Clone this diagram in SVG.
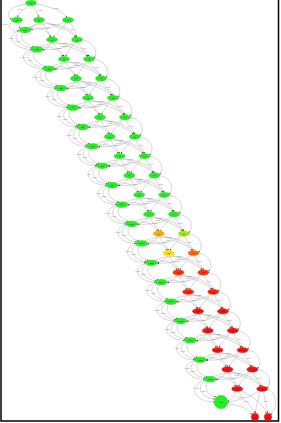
<svg xmlns="http://www.w3.org/2000/svg" width="281" height="423" viewBox="0 0 281 423">
<style>
.e{fill:none;stroke:#a4a4a4;stroke-width:0.45;marker-end:url(#ah)}
.g{fill:#22ee22;stroke:#1cc01c;stroke-width:0.3}
.r{fill:#f51010;stroke:#d00;stroke-width:0.3}
.t{font-family:"Liberation Sans",Arial,sans-serif;font-size:2.2px;fill:#1a1a1a;text-anchor:middle}
.l{font-family:"Liberation Sans",Arial,sans-serif;font-size:2px;fill:#808080;text-anchor:middle}
</style>
<defs>
<marker id="ah" viewBox="0 0 10 10" refX="9" refY="5" markerWidth="1.8" markerHeight="1.8" markerUnits="userSpaceOnUse" orient="auto"><path d="M0,1 L10,5 L0,9z" fill="#333"/></marker>
<g id="t12">
<path class="e" d="M-5.3,0.8 C-22,5 -11,19.5 6.2,19.4"/>
<path class="e" d="M-4.6,1.6 C-15,7 -5,17 7.2,18"/>
<path class="e" d="M-2.8,2.3 C-6,9 1,15 9,17"/>
<path class="e" d="M5,-1.2 C14,-5 23,1.5 25.6,7.2"/>
<path class="e" d="M3,-2.3 C18,-10 44,-6 50.8,7.1"/>
<path class="e" d="M26,12.2 C24,17.5 21,19.4 18,19.4"/>
<path class="e" d="M48.5,11.8 C42,19 30,19.5 17.8,19.9"/>
<path class="e" d="M28,12.2 C30,18 37.5,22 39,26.4"/>
<path class="e" d="M53,12.2 C55,18 62.5,22 64,26.4"/>
<path class="e" d="M30.5,11.7 C42,16 58,21 62.5,26.6"/>
<path class="e" d="M50,11.9 C46,18 42,22 40.5,26.6"/>
<path class="e" d="M57.5,9.7 C71,13 73,24 69,28"/>
<text class="l" x="-14" y="9">0.125</text>
<text class="l" x="-7" y="12">0.250</text>
<text class="l" x="34" y="19">0.500</text>
<text class="l" x="59" y="19">0.500</text>
<text class="l" x="28" y="-5.5">0.250</text>
<text class="l" x="38" y="16.5">0.125</text>
</g>
<g id="t10">
<path class="e" d="M-5.3,0.8 C-22,5 -13,19.5 4,19.4"/>
<path class="e" d="M-4.6,1.6 C-15,7 -7,17 5,18"/>
<path class="e" d="M-2.8,2.3 C-6,9 -1,15 6.8,17"/>
<path class="e" d="M5,-1.2 C14,-5 23,1.5 25.6,7.2"/>
<path class="e" d="M3,-2.3 C18,-10 44,-6 50.8,7.1"/>
<path class="e" d="M26,12.2 C23,17.5 19,19.4 15.8,19.4"/>
<path class="e" d="M48.5,11.8 C42,19 28,19.5 15.6,19.9"/>
<path class="e" d="M28,12.2 C29,18 35.3,22 36.8,26.4"/>
<path class="e" d="M53,12.2 C54,18 60.3,22 61.8,26.4"/>
<path class="e" d="M30.5,11.7 C42,16 56,21 60.3,26.6"/>
<path class="e" d="M50,11.9 C45,18 40,22 38.3,26.6"/>
<path class="e" d="M57.5,9.7 C71,13 71,24 66.8,28"/>
<text class="l" x="-14" y="9">0.125</text>
<text class="l" x="-8" y="12">0.250</text>
<text class="l" x="33" y="19">0.500</text>
<text class="l" x="58" y="19">0.500</text>
<text class="l" x="28" y="-5.5">0.250</text>
<text class="l" x="36" y="16.5">0.125</text>
</g>
</defs>
<rect x="0" y="0" width="281" height="423" fill="#fff"/>
<rect x="1" y="-1" width="277.5" height="422" fill="none" stroke="#000" stroke-width="1.5"/>
<g id="connectors">
<path class="e" d="M29,5.2 C24,9 19,13 17.5,17.1"/>
<path class="e" d="M32,5.5 C35,10 38,14 38.7,17.1"/>
<path class="e" d="M35.5,4 C50,6 64,12 67,17.1"/>
<path class="e" d="M26.5,4 C10,6 4,14 11.5,19.2"/>
<path class="e" d="M18,22.5 C19,26 20,27.3 20.5,27.4"/>
<path class="e" d="M37,22.5 C34,26 31,28 29.8,28"/>
<path class="e" d="M64,22 C55,28 40,29 31,29.6"/>
<path class="e" d="M12.5,21.5 C6,26 10,32 19,30.8"/>
<path class="e" d="M42,22.3 C46,28 49,33 50.6,37.1"/>
<path class="e" d="M66,22.5 C62,30 56,33 53.6,37.1"/>
<path class="e" d="M70,22.5 C74,28 76,33 76.6,37"/>
<path class="e" d="M43.5,21.5 C55,26 70,30 75.2,37.2"/>
<text class="l" x="20" y="10">0.333</text>
<text class="l" x="40" y="11">0.333</text>
<text class="l" x="56" y="9">0.333</text>
<text class="l" x="5" y="25">0.500</text>
<text class="l" x="47" y="29">0.500</text>
<text class="l" x="72" y="30">0.500</text>
<use href="#t12" x="25" y="30"/>
<use href="#t12" x="37" y="49.4"/>
<use href="#t12" x="49" y="68.8"/>
<use href="#t12" x="61" y="88.2"/>
<use href="#t10" x="73" y="107.6"/>
<use href="#t10" x="82.8" y="127"/>
<use href="#t10" x="92.6" y="146.4"/>
<use href="#t10" x="102.4" y="165.8"/>
<use href="#t10" x="112.2" y="185.2"/>
<use href="#t10" x="122" y="204.6"/>
<use href="#t10" x="131.8" y="224"/>
<use href="#t10" x="141.6" y="243.4"/>
<use href="#t10" x="151.4" y="262.8"/>
<use href="#t10" x="161.2" y="282.2"/>
<use href="#t10" x="171" y="301.6"/>
<use href="#t10" x="180.8" y="321"/>
<use href="#t10" x="190.6" y="340.4"/>
<use href="#t10" x="200.4" y="359.8"/>
<path class="e" d="M204.9,380 C187,386 194,402 214.2,402"/>
<path class="e" d="M205.6,380.8 C195,387 202,398 214.8,399"/>
<path class="e" d="M207.4,381.5 C204,390 208,396 216,396.8"/>
<path class="e" d="M215.2,378 C224,374 233,380.5 235.8,386.3"/>
<path class="e" d="M213.2,376.9 C228,369 254,373 260.9,386.3"/>
<path class="e" d="M236,391.3 C234,397 231,400 227.8,400.8"/>
<path class="e" d="M258.5,391 C250,398 237,400 227.8,402.6"/>
<path class="e" d="M238.5,391.4 C243,400 252,406 254.3,413"/>
<path class="e" d="M263.2,391.4 C265,400 267,406 267.7,413"/>
<path class="e" d="M241,390.8 C252,396 264,404 266.3,413.3"/>
<path class="e" d="M260,391.6 C258,400 256,406 255.5,413"/>
<path class="e" d="M267.7,389 C278,394 277,408 271,414.5"/>
<path class="e" d="M227.4,404 C240,405 249,409 251.8,414.4"/>
<text class="l" x="196" y="389">0.125</text>
<text class="l" x="203" y="392">0.250</text>
<text class="l" x="246" y="402">0.500</text>
<text class="l" x="266" y="402">0.500</text>
<text class="l" x="238" y="373.5">0.250</text>
<text class="l" x="240" y="398">0.125</text>
</g>
<g id="nodes">
<g id="n-top"><ellipse class="g" cx="31" cy="3" rx="5.5" ry="2.7"/><text class="t" x="31" y="3.8">init</text></g>
<g id="n-a1"><ellipse class="g" cx="17" cy="20" rx="5.5" ry="2.7"/><text class="t" x="17" y="20.8">a1</text></g>
<g id="n-a2"><ellipse class="g" cx="39" cy="20" rx="5.5" ry="2.7"/><text class="t" x="39" y="20.8">a2</text></g>
<g id="n-a3"><ellipse class="g" cx="68" cy="20" rx="5.5" ry="2.7"/><text class="t" x="68" y="20.8">a3</text></g>
<g id="m0"><ellipse class="g" cx="25" cy="30" rx="6" ry="2.9"/><text class="t" x="25" y="30.8">m0</text></g>
<g id="l0"><ellipse class="g" cx="52" cy="39.7" rx="5.5" ry="2.7"/><text class="t" x="52" y="40.5">l0</text></g>
<g id="r0"><ellipse class="g" cx="77" cy="39.7" rx="5.5" ry="2.7"/><text class="t" x="77" y="40.5">r0</text></g>
<g id="m1"><ellipse class="g" cx="37" cy="49.4" rx="6" ry="2.9"/><text class="t" x="37" y="50.2">m1</text></g>
<g id="l1"><ellipse class="g" cx="64" cy="59.1" rx="5.5" ry="2.7"/><text class="t" x="64" y="59.9">l1</text></g>
<g id="r1"><ellipse class="g" cx="89" cy="59.1" rx="5.5" ry="2.7"/><text class="t" x="89" y="59.9">r1</text></g>
<g id="m2"><ellipse class="g" cx="49" cy="68.8" rx="6" ry="2.9"/><text class="t" x="49" y="69.6">m2</text></g>
<g id="l2"><ellipse class="g" cx="76" cy="78.5" rx="5.5" ry="2.7"/><text class="t" x="76" y="79.3">l2</text></g>
<g id="r2"><ellipse class="g" cx="101" cy="78.5" rx="5.5" ry="2.7"/><text class="t" x="101" y="79.3">r2</text></g>
<g id="m3"><ellipse class="g" cx="61" cy="88.2" rx="6" ry="2.9"/><text class="t" x="61" y="89">m3</text></g>
<g id="l3"><ellipse class="g" cx="88" cy="97.9" rx="5.5" ry="2.7"/><text class="t" x="88" y="98.7">l3</text></g>
<g id="r3"><ellipse class="g" cx="113" cy="97.9" rx="5.5" ry="2.7"/><text class="t" x="113" y="98.7">r3</text></g>
<g id="m4"><ellipse class="g" cx="73" cy="107.6" rx="6" ry="2.9"/><text class="t" x="73" y="108.4">m4</text></g>
<g id="l4"><ellipse class="g" cx="100" cy="117.3" rx="5.5" ry="2.7"/><text class="t" x="100" y="118.1">l4</text></g>
<g id="r4"><ellipse class="g" cx="125" cy="117.3" rx="5.5" ry="2.7"/><text class="t" x="125" y="118.1">r4</text></g>
<g id="m5"><ellipse class="g" cx="82.8" cy="127" rx="6" ry="2.9"/><text class="t" x="82.8" y="127.8">m5</text></g>
<g id="l5"><ellipse class="g" cx="109.8" cy="136.7" rx="5.5" ry="2.7"/><text class="t" x="109.8" y="137.5">l5</text></g>
<g id="r5"><ellipse class="g" cx="134.8" cy="136.7" rx="5.5" ry="2.7"/><text class="t" x="134.8" y="137.5">r5</text></g>
<g id="m6"><ellipse class="g" cx="92.6" cy="146.4" rx="6" ry="2.9"/><text class="t" x="92.6" y="147.2">m6</text></g>
<g id="l6"><ellipse class="g" cx="119.6" cy="156.1" rx="5.5" ry="2.7"/><text class="t" x="119.6" y="156.9">l6</text></g>
<g id="r6"><ellipse class="g" cx="144.6" cy="156.1" rx="5.5" ry="2.7"/><text class="t" x="144.6" y="156.9">r6</text></g>
<g id="m7"><ellipse class="g" cx="102.4" cy="165.8" rx="6" ry="2.9"/><text class="t" x="102.4" y="166.6">m7</text></g>
<g id="l7"><ellipse class="g" cx="129.4" cy="175.5" rx="5.5" ry="2.7"/><text class="t" x="129.4" y="176.3">l7</text></g>
<g id="r7"><ellipse class="g" cx="154.4" cy="175.5" rx="5.5" ry="2.7"/><text class="t" x="154.4" y="176.3">r7</text></g>
<g id="m8"><ellipse class="g" cx="112.2" cy="185.2" rx="6" ry="2.9"/><text class="t" x="112.2" y="186">m8</text></g>
<g id="l8"><ellipse class="g" cx="139.2" cy="194.9" rx="5.5" ry="2.7"/><text class="t" x="139.2" y="195.7">l8</text></g>
<g id="r8"><ellipse class="g" cx="164.2" cy="194.9" rx="5.5" ry="2.7"/><text class="t" x="164.2" y="195.7">r8</text></g>
<g id="m9"><ellipse class="g" cx="122" cy="204.6" rx="6" ry="2.9"/><text class="t" x="122" y="205.4">m9</text></g>
<g id="l9"><ellipse class="g" cx="149" cy="214.3" rx="5.5" ry="2.7"/><text class="t" x="149" y="215.1">l9</text></g>
<g id="r9"><ellipse class="g" cx="174" cy="214.3" rx="5.5" ry="2.7"/><text class="t" x="174" y="215.1">r9</text></g>
<g id="m10"><ellipse class="g" cx="131.8" cy="224" rx="6" ry="2.9"/><text class="t" x="131.8" y="224.8">m10</text></g>
<g id="l10"><ellipse cx="158.8" cy="233.7" rx="5.5" ry="2.7" fill="#ffaa00" stroke="#e09000" stroke-width="0.3"/><text class="t" x="158.8" y="234.5">l10</text></g>
<g id="r10"><ellipse cx="183.8" cy="233.7" rx="5.5" ry="2.7" fill="#99ee00" stroke="#80cc00" stroke-width="0.3"/><text class="t" x="183.8" y="234.5">r10</text></g>
<g id="m11"><ellipse class="g" cx="141.6" cy="243.4" rx="6" ry="2.9"/><text class="t" x="141.6" y="244.2">m11</text></g>
<g id="l11"><ellipse cx="168.6" cy="253.1" rx="5.5" ry="2.7" fill="#ffdd00" stroke="#e0c000" stroke-width="0.3"/><text class="t" x="168.6" y="253.9">l11</text></g>
<g id="r11"><ellipse cx="193.6" cy="253.1" rx="5.5" ry="2.7" fill="#ff6600" stroke="#e05000" stroke-width="0.3"/><text class="t" x="193.6" y="253.9">r11</text></g>
<g id="m12"><ellipse class="g" cx="151.4" cy="262.8" rx="6" ry="2.9"/><text class="t" x="151.4" y="263.6">m12</text></g>
<g id="l12"><ellipse cx="178.4" cy="272.5" rx="5.5" ry="2.7" fill="#ff3300" stroke="#e02000" stroke-width="0.3"/><text class="t" x="178.4" y="273.3">l12</text></g>
<g id="r12"><ellipse cx="203.4" cy="272.5" rx="5.5" ry="2.7" fill="#ff3300" stroke="#e02000" stroke-width="0.3"/><text class="t" x="203.4" y="273.3">r12</text></g>
<g id="m13"><ellipse class="g" cx="161.2" cy="282.2" rx="6" ry="2.9"/><text class="t" x="161.2" y="283">m13</text></g>
<g id="l13"><ellipse cx="188.2" cy="291.9" rx="5.5" ry="2.7" fill="#ff2200" stroke="#d81800" stroke-width="0.3"/><text class="t" x="188.2" y="292.7">l13</text></g>
<g id="r13"><ellipse cx="213.2" cy="291.9" rx="5.5" ry="2.7" fill="#ff2200" stroke="#d81800" stroke-width="0.3"/><text class="t" x="213.2" y="292.7">r13</text></g>
<g id="m14"><ellipse class="g" cx="171" cy="301.6" rx="6" ry="2.9"/><text class="t" x="171" y="302.4">m14</text></g>
<g id="l14"><ellipse class="r" cx="198" cy="311.3" rx="5.5" ry="2.7"/><text class="t" x="198" y="312.1">l14</text></g>
<g id="r14"><ellipse class="r" cx="223" cy="311.3" rx="5.5" ry="2.7"/><text class="t" x="223" y="312.1">r14</text></g>
<g id="m15"><ellipse class="g" cx="180.8" cy="321" rx="6" ry="2.9"/><text class="t" x="180.8" y="321.8">m15</text></g>
<g id="l15"><ellipse class="r" cx="207.8" cy="330.7" rx="5.5" ry="2.7"/><text class="t" x="207.8" y="331.5">l15</text></g>
<g id="r15"><ellipse class="r" cx="232.8" cy="330.7" rx="5.5" ry="2.7"/><text class="t" x="232.8" y="331.5">r15</text></g>
<g id="m16"><ellipse class="g" cx="190.6" cy="340.4" rx="6" ry="2.9"/><text class="t" x="190.6" y="341.2">m16</text></g>
<g id="l16"><ellipse class="r" cx="217.6" cy="350.1" rx="5.5" ry="2.7"/><text class="t" x="217.6" y="350.9">l16</text></g>
<g id="r16"><ellipse class="r" cx="242.6" cy="350.1" rx="5.5" ry="2.7"/><text class="t" x="242.6" y="350.9">r16</text></g>
<g id="m17"><ellipse class="g" cx="200.4" cy="359.8" rx="6" ry="2.9"/><text class="t" x="200.4" y="360.6">m17</text></g>
<g id="l17"><ellipse class="r" cx="227.4" cy="369.5" rx="5.5" ry="2.7"/><text class="t" x="227.4" y="370.3">l17</text></g>
<g id="r17"><ellipse class="r" cx="252.4" cy="369.5" rx="5.5" ry="2.7"/><text class="t" x="252.4" y="370.3">r17</text></g>
<g id="m18"><ellipse class="g" cx="210.2" cy="379.2" rx="6" ry="2.9"/><text class="t" x="210.2" y="380">m18</text></g>
<g id="l18"><ellipse class="r" cx="237.2" cy="388.9" rx="5.5" ry="2.7"/><text class="t" x="237.2" y="389.7">l18</text></g>
<g id="r18"><ellipse class="r" cx="262.2" cy="388.9" rx="5.5" ry="2.7"/><text class="t" x="262.2" y="389.7">r18</text></g>
<g id="m19"><circle class="g" cx="221" cy="402" r="6.8"/><text class="t" x="221" y="402.8">end</text></g>
<g id="b1"><circle class="r" cx="255" cy="417" r="3.8"/><text class="t" x="255" y="417.8">b1</text></g>
<g id="b2"><circle class="r" cx="268" cy="417" r="3.8"/><text class="t" x="268" y="417.8">b2</text></g>
</g>
</svg>
